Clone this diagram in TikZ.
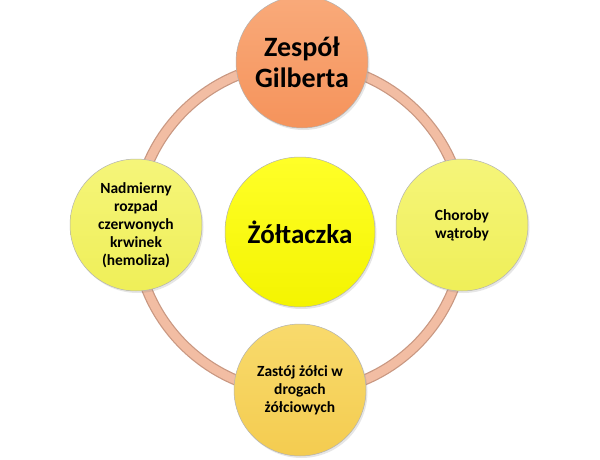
\documentclass[tikz,border=0pt]{standalone}
\usepackage{fontspec}
\setmainfont{Carlito}
\usetikzlibrary{shadows}
\definecolor{ringdark}{HTML}{C99882}
\definecolor{ringfill}{HTML}{F2BDA3}
\definecolor{orgtop}{HTML}{F9AA7A}
\definecolor{orgbot}{HTML}{F5935B}
\definecolor{yeltop}{HTML}{FFFF28}
\definecolor{yelbot}{HTML}{F4F400}
\definecolor{ltop}{HTML}{F5F57A}
\definecolor{lbot}{HTML}{EFEF58}
\definecolor{gtop}{HTML}{F8DA6C}
\definecolor{gbot}{HTML}{F4CC50}
\tikzset{
  bubble/.style={circle, inner sep=0pt, align=center, font=\bfseries,
    draw=black!30, line width=0.5pt, shading=axis, shading angle=0,
    drop shadow={opacity=0.2, shadow xshift=1.5pt, shadow yshift=-2pt}},
  orangeb/.style={bubble, top color=orgtop, bottom color=orgbot},
  yellowb/.style={bubble, top color=yeltop, bottom color=yelbot},
  lightb/.style={bubble, top color=ltop, bottom color=lbot},
  goldb/.style={bubble, top color=gtop, bottom color=gbot},
  smalltext/.style={font=\bfseries\fontsize{15.5}{18}\selectfont},
}
\begin{document}
\begin{tikzpicture}[x=1pt, y=-1pt]
\useasboundingbox (0,0) rectangle (600,460);
\coordinate (ringc) at (300,228);
\draw[ringdark, line width=11pt] (ringc) circle[radius=165];
\draw[ringfill, line width=8.5pt] (ringc) circle[radius=165];
\node[yellowb, minimum size=150pt, font=\bfseries\fontsize{27}{30}\selectfont] (center) at (300,232) {Żółtaczka};
\node[orangeb, minimum size=132pt, font=\bfseries\fontsize{28}{31}\selectfont] (top) at (302,62) {Zespół\\Gilberta};
\node[lightb, minimum size=132pt, smalltext] (left) at (136,225) {Nadmierny\\rozpad\\czerwonych\\krwinek\\(hemoliza)};
\node[lightb, minimum size=132pt, smalltext] (right) at (462,225) {Choroby\\wątroby};
\node[goldb, minimum size=132pt, smalltext] (bottom) at (300,390) {Zastój żółci w\\drogach\\żółciowych};
\end{tikzpicture}
\end{document}
